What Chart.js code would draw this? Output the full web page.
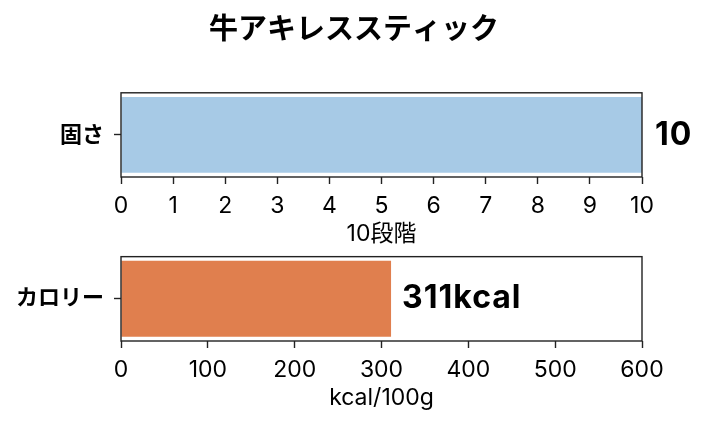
<!DOCTYPE html>
<html>
<head>
<meta charset="utf-8">
<script src="https://cdn.jsdelivr.net/npm/chart.js@4.4.1/dist/chart.umd.min.js"></script>
<style>
body { margin: 0; background: #fff; }
canvas { display: block; }
#calChart { margin-top: -16px; }
</style>
</head>
<body>
<canvas id="hardChart" width="708" height="250"></canvas>
<canvas id="calChart" width="708" height="192"></canvas>
<script>
var chartTitle = '牛アキレススティック';

var hardLabels = ['固さ'];
var hardValues = [10];
var hardValueText = ['10'];
var hardAxisTitle = '10段階';

var calLabels = ['カロリー'];
var calValues = [311];
var calValueText = ['311kcal'];
var calAxisTitle = 'kcal/100g';

var FONT = "Inter, 'Noto Sans CJK JP', sans-serif";
var AXIS_COLOR = '#222';

// full box around the plot area
var frame = {
    id: 'frame',
    afterDraw: function (chart) {
        var a = chart.chartArea;
        var ctx = chart.ctx;
        ctx.save();
        ctx.strokeStyle = AXIS_COLOR;
        ctx.lineWidth = 1.4;
        ctx.strokeRect(a.left, a.top, a.right - a.left, a.bottom - a.top);
        ctx.restore();
    }
};

// value text after the end of each bar
var valueText = {
    id: 'valueText',
    afterDatasetsDraw: function (chart, args, opts) {
        var ctx = chart.ctx;
        var meta = chart.getDatasetMeta(0);
        ctx.save();
        ctx.font = 'bold 32px ' + FONT;
        ctx.letterSpacing = '1px';
        ctx.fillStyle = '#000';
        ctx.textAlign = 'left';
        ctx.textBaseline = 'middle';
        meta.data.forEach(function (bar, i) {
            ctx.fillText(opts.texts[i], bar.x + opts.gap, bar.y);
        });
        ctx.restore();
    }
};

function makeChart(id, labels, values, color, max, step, axisTitle, texts, gap, xHeight, titlePadBottom, withTitle) {
    var ctx = document.getElementById(id).getContext('2d');
    return new Chart(ctx, {
        type: 'bar',
        data: {
            labels: labels,
            datasets: [{
                data: values,
                backgroundColor: color,
                borderWidth: 0,
                barPercentage: 0.9,
                categoryPercentage: 1
            }]
        },
        options: {
            indexAxis: 'y',
            responsive: false,
            animation: false,
            layout: { padding: 0 },
            scales: {
                x: {
                    min: 0,
                    max: max,
                    grid: { drawOnChartArea: false, tickLength: 7, tickColor: AXIS_COLOR, tickWidth: 1.4 },
                    border: { display: false },
                    ticks: { stepSize: step, padding: 8, maxRotation: 0, color: '#000', font: { family: FONT, size: 23 } },
                    title: { display: true, text: axisTitle, color: '#000', padding: { top: 0, bottom: titlePadBottom }, font: { family: FONT, size: 23 } },
                    afterFit: function (s) { s.height = xHeight; }
                },
                y: {
                    grid: { drawOnChartArea: false, offset: false, tickLength: 7, tickColor: AXIS_COLOR, tickWidth: 1.4 },
                    border: { display: false },
                    ticks: { padding: 10, color: '#000', font: { family: FONT, size: 22, weight: 'bold', lineHeight: 1.15 } },
                    afterFit: function (s) { s.width = 121; }
                },
                yRight: {
                    type: 'linear',
                    position: 'right',
                    grid: { display: false },
                    border: { display: false },
                    ticks: { display: false },
                    afterFit: function (s) { s.width = 66; }
                }
            },
            plugins: {
                legend: { display: false },
                tooltip: { enabled: false },
                title: {
                    display: withTitle,
                    text: chartTitle,
                    color: '#000',
                    font: { family: FONT, size: 29, weight: 'bold', lineHeight: 1.2 },
                    padding: { top: 13, bottom: 45 }
                },
                valueText: { texts: texts, gap: gap }
            }
        },
        plugins: [frame, valueText]
    });
}

makeChart('hardChart', hardLabels, hardValues, '#a7cae6', 10, 1, hardAxisTitle, hardValueText, 13, 73, 2, true);
makeChart('calChart', calLabels, calValues, '#e07f4e', 600, 100, calAxisTitle, calValueText, 11, 85, 14, false);
</script>
</body>
</html>
